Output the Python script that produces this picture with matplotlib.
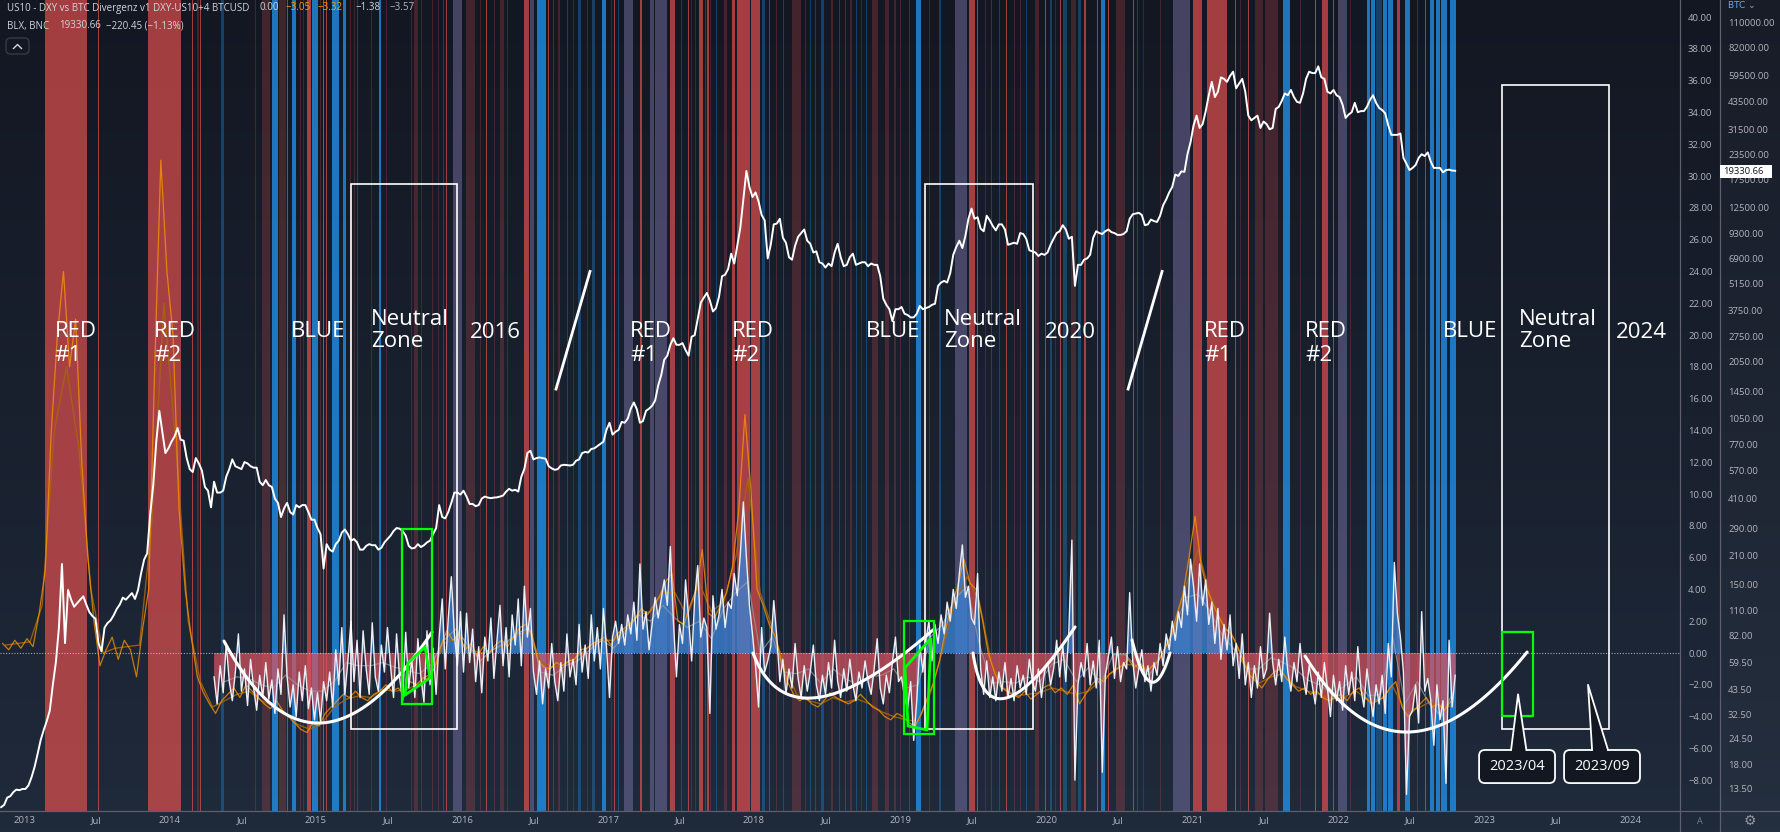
import numpy as np
import matplotlib
matplotlib.use("Agg")
import matplotlib.pyplot as plt
from matplotlib.patches import Rectangle, Polygon, FancyBboxPatch
from matplotlib.lines import Line2D
from matplotlib.colors import LinearSegmentedColormap
from matplotlib.ticker import NullLocator

plt.rcParams['font.family'] = ['Open Sans', 'DejaVu Sans']

# ======================= DATA =======================
# BLX (BTC) price, 4 values per month
btc_2012 = [10.9, 11.2, 12.2, 12.4, 13.0, 13.4, 13.3, 13.5]  # Nov-Dec
btc_2013 = [13.5, 14.1, 15.5, 17.5, 20.4, 24, 27, 30, 34, 46, 60, 90,
            190, 75, 140, 125, 115, 120, 125, 130, 118, 108, 103, 100,
            75, 68, 90, 95, 98, 104, 112, 118, 128, 125, 130, 135,
            126, 140, 170, 200, 215, 340, 480, 800, 1150, 900, 700, 740]
btc_2014 = [800, 850, 940, 820, 810, 660, 580, 560, 660, 620, 570, 470,
            450, 370, 500, 440, 440, 450, 530, 580, 650, 600, 590, 580,
            630, 620, 600, 590, 590, 500, 480, 510, 480, 470, 410, 390,
            330, 365, 390, 350, 340, 380, 370, 380, 380, 350, 320, 320]
btc_2015 = [290, 270, 180, 240, 225, 220, 240, 250, 275, 285, 270, 250,
            255, 245, 225, 225, 235, 240, 237, 237, 225, 230, 245, 255,
            265, 280, 290, 288, 280, 265, 235, 228, 230, 240, 232, 237,
            245, 250, 270, 290, 380, 330, 325, 350, 390, 440, 440, 430]
btc_2016 = [450, 420, 385, 385, 375, 380, 410, 420, 415, 412, 415, 416,
            420, 425, 445, 460, 450, 455, 445, 530, 580, 700, 720, 650,
            660, 665, 660, 655, 600, 585, 575, 580, 605, 610, 608, 605,
            610, 640, 650, 700, 710, 705, 735, 740, 760, 780, 800, 920]
btc_2017 = [1000, 870, 900, 920, 1010, 1000, 1050, 1180, 1270, 1170, 1000, 1020,
            1150, 1180, 1220, 1300, 1550, 1750, 2100, 2200, 2500, 2700, 2500, 2500,
            2550, 2350, 2200, 2750, 2800, 3400, 4100, 4350, 4600, 4200, 3700, 3850,
            4400, 5600, 5700, 6100, 7300, 6500, 8000, 9900, 13800, 19300, 16000, 14200]
btc_2018 = [15000, 13500, 11500, 10800, 6900, 8100, 10300, 10400, 11000, 8800, 8300, 7000,
            6800, 8000, 8900, 9300, 9700, 8500, 8200, 7400, 7500, 6600, 6500, 6200,
            6500, 6300, 7400, 8200, 7000, 6300, 6400, 7000, 7300, 6400, 6500, 6600,
            6600, 6300, 6500, 6400, 6400, 5600, 4300, 4000, 3800, 3300, 3800, 3800]
btc_2019 = [3900, 3600, 3550, 3450, 3450, 3600, 3950, 3800, 3850, 3900, 4000, 4050,
            5000, 5200, 5300, 5200, 5800, 7200, 7900, 8500, 7800, 9000, 11000, 12400,
            11000, 11200, 9800, 9500, 11400, 10800, 10100, 9600, 10300, 10300, 9700, 8100,
            8200, 8300, 8200, 9300, 9200, 8700, 7600, 7500, 7400, 7100, 7300, 7200]
btc_2020 = [7400, 8100, 8700, 9300, 9500, 10200, 9700, 8700, 8900, 5000, 6400, 6400,
            6800, 6900, 7200, 8800, 9500, 9300, 9200, 9500, 9700, 9400, 9300, 9100,
            9100, 9200, 9500, 11000, 11600, 11700, 11800, 11500, 10200, 10300, 10900, 10700,
            10600, 11400, 12900, 13800, 15000, 16000, 18500, 18200, 19200, 19100, 23500, 27000]
btc_2021 = [33000, 37000, 32000, 33500, 39000, 47000, 55000, 46000, 49000, 58000, 57000, 55000,
            59000, 62000, 51000, 54000, 57000, 49000, 37000, 35000, 36000, 37000, 32000, 34500,
            33500, 31500, 32000, 40000, 41000, 44000, 48000, 47000, 50000, 46000, 43500, 43000,
            48000, 57000, 62000, 61000, 61000, 66000, 58000, 57000, 49000, 48000, 50000, 47000]
btc_2022 = [46000, 42000, 36000, 37500, 38500, 43000, 38500, 39000, 39000, 41000, 44500, 47000,
            43000, 40500, 39500, 38000, 33000, 29500, 29500, 29500, 30000, 22500, 21000, 19500,
            20000, 20700, 22500, 23500, 23000, 24000, 21500, 20000, 20000, 20000, 19000, 19500,
            19600, 19400, 19330]

# Divergence oscillator (white line / histogram), 4 values per month
osc_2014 = [-1.5, -3.2, -0.8, -2.5, 0.6, -1.8, -3.0, -1.2, 1.2, -2.4, -1.0, -3.3, -0.4, -2.2,
            -3.6, -1.4, -2.8, -0.6, -2.9, -1.7, -3.8, -1.0, -2.6, 2.4, -1.5, -3.4,
            -2.0, -4.0, -1.2, -3.0, -0.8, -3.5, -2.2, -4.2]  # from mid-April
osc_2015 = [-2.5, -4.3, -1.8, -3.0, -1.2, -3.4, 0.2, -2.0, 1.6, -2.6, -0.5, 2.0,
            -1.8, 0.8, -2.8, 1.4, -1.0, -2.6, 1.9, -1.5, -2.4, 0.5, -1.2, 1.6,
            -0.8, -2.8, 1.2, -1.6, -3.0, 1.3, -2.2, -0.4, -2.8, 0.9, -1.5, -3.1,
            1.4, -2.0, 0.3, -2.6, 1.0, 3.4, -1.0, 2.2, 4.8, 1.2, -0.8, 2.6]
osc_2016 = [-1.2, 2.5, -0.6, 1.5, -1.8, 0.4, -2.5, 1.0, -0.5, 2.2, -1.6, 0.8,
            3.0, -0.8, 1.6, -1.5, 2.4, 0.5, 3.4, -0.8, 4.2, 1.0, 2.8, -1.2,
            -2.6, -0.5, -3.2, -1.0, -2.2, 0.6, -1.8, -3.0, -0.6, -2.4, 1.2, -1.5,
            -0.4, -2.0, 1.8, -1.2, 0.5, -1.6, 2.4, -0.5, 1.6, -1.0, 2.8, 0.4]
osc_2017 = [-2.8, 1.0, 2.0, 0.6, 1.8, 0.5, 2.4, 1.2, 3.2, 0.8, 5.6, 1.5,
            2.6, 0.2, 1.8, 3.5, 2.2, 3.4, 4.6, 3.0, 6.7, 2.0, -1.5, 1.8,
            0.6, 4.6, 2.2, -0.5, 3.4, 5.5, 1.0, 2.2, 1.6, -3.8, 3.6, 1.5,
            2.4, 4.0, 1.6, 3.2, 2.8, 5.0, 3.6, 6.2, 9.5, 6.0, 3.0, 1.2]
osc_2018 = [-0.8, -3.4, 1.6, -1.2, -0.5, 0.4, 3.3, 1.0, -1.8, -0.4, -2.6, -1.0,
            -2.2, 0.6, -1.6, -2.8, -0.8, -2.4, -1.2, 0.5, -2.0, -3.0, -1.4, -2.6,
            -0.6, -2.2, 0.8, -1.8, -2.8, -1.0, -2.4, -0.4, -2.0, -3.0, -1.2, -2.2,
            -0.5, -1.8, -2.6, -1.0, 0.9, -2.2, -3.2, -1.4, -2.5, -0.6, 1.0, -1.8]
osc_2019 = [-1.5, -2.8, -3.5, -1.8, -5.5, -3.0, 0.5, -1.2, 0.8, 2.0, -0.5, 1.8,
            0.6, 2.4, 1.2, 3.2, 2.0, 4.0, 2.8, 5.0, 6.8, 3.5, 4.2, 2.2,
            1.8, 5.0, -1.0, -2.6, -0.5, -2.8, -1.5, -3.0, -1.2, -2.4, -0.6, -2.8,
            -1.6, -3.0, -0.8, -2.2, -1.4, -2.6, -0.4, -1.8, -2.4, -1.0, -2.8, -1.2]
osc_2020 = [-0.6, -2.0, -1.0, 0.8, -1.5, 0.5, -1.8, 1.4, 7.1, -8.0, -2.0, -0.6,
            -1.5, 0.6, -2.0, -0.5, -2.2, 0.8, -7.5, -1.4, -0.2, 1.0, -1.6, 0.4,
            -1.8, -0.6, -1.0, 3.8, -0.5, -2.2, -1.0, 0.2, -1.8, -0.8, -2.4, -0.6,
            -1.4, 0.6, -0.8, 1.2, 0.2, 2.0, 0.8, 2.6, 1.6, 4.2, 2.4, 5.9]
osc_2021 = [4.2, 2.0, 5.6, 3.0, 4.6, 1.8, 3.2, 0.6, 2.8, -0.4, 1.8, 0.2,
            2.4, -0.8, 0.6, -1.6, 1.2, -2.0, -0.6, -2.8, -0.8, -2.2, 0.4, -1.6,
            -1.0, 2.5, -0.6, -2.0, -0.4, -1.8, 1.0, -1.2, -2.4, -0.6, -1.8, 0.6,
            -1.4, -2.6, -0.8, -2.0, -3.2, -1.2, -2.8, -0.6, -2.2, -4.0, -1.4, -3.0]
osc_2022 = [-1.8, -3.6, -0.8, -2.6, -1.2, -3.0, 0.4, -2.2, -3.4, -1.0, -2.6, -4.0,
            -2.0, -3.2, -1.4, -3.8, 0.6, -1.5, 5.7, 2.5, 1.0, -1.2, -8.9, -4.0,
            -3.6, -2.0, -4.4, 2.6, -2.4, -1.6, -3.0, -5.8, -2.0, -4.2, -3.0, -8.2,
            0.8, -3.4, -1.4]

# Fast orange signal, 2 values per month
org_2012 = [0.6, 0.2, 0.8, 0.3]
org_2013 = [0.9, 0.4, 2.5, 5.2, 14, 20, 24, 18, 21, 12, 6, 2,
            -0.8, 0.2, 1.0, -0.4, 0.8, 0.2, -1.5, 1.5, 4, 18, 31, 24]
org_2014 = [20, 9, 4, 1.0, -1.5, -2.5, -3.2, -3.8, -3.0, -2.6, -2.2, -2.8,
            -2.0, -2.4, -2.8, -3.2, -3.5, -3.0, -3.6, -4.0, -4.4, -4.8, -5.0, -4.4]
org_2015 = [-4.6, -3.8, -3.4, -3.0, -2.6, -2.8, -2.4, -2.8, -3.0, -2.6, -2.4, -2.0,
            -2.4, -2.2, -2.6, -1.8, -2.0, -1.6, -1.4, -1.0, 0.4, 1.4, 0.8, 1.2]
org_2016 = [0.2, 0.6, -0.2, 0.4, 0.0, 0.5, 0.8, 0.4, 1.0, 1.6, 1.8, 1.2,
            -0.5, -0.9, -1.0, -0.6, -0.8, -0.5, -0.4, 0.2, 0.3, 0.6, 0.8, 1.0]
org_2017 = [0.5, 1.2, 1.5, 1.8, 2.2, 2.8, 2.4, 3.0, 3.6, 4.5, 5.0, 2.0,
            1.8, 3.0, 4.0, 6.5, 2.5, 2.2, 3.0, 3.8, 5.5, 9.0, 15.0, 10.2]
org_2018 = [4.0, 3.0, 1.8, 1.0, -0.5, -1.8, -2.6, -3.0, -2.8, -3.2, -3.4, -3.0,
            -2.5, -2.8, -3.0, -3.2, -3.0, -2.6, -3.0, -3.4, -3.6, -4.0, -4.2, -3.8]
org_2019 = [-4.0, -4.4, -4.6, -3.8, -2.8, -1.9, -0.5, 1.5, 3.0, 4.2, 5.9, 4.4,
            4.0, 2.2, 0.0, -1.2, -2.1, -2.4, -2.6, -2.8, -2.4, -2.9, -2.6, -2.2]
org_2020 = [-2.0, -2.5, -2.2, -2.6, -2.0, -3.2, -2.6, -2.0, -1.6, -1.8, -1.3, -1.0,
            -0.8, -0.4, -0.9, -0.6, -1.2, -0.8, -0.5, 0.3, 1.0, 2.4, 3.7, 6.0]
org_2021 = [8.6, 5.5, 4.0, 3.0, 2.2, 1.5, 1.2, 0.4, -0.6, -1.4, -1.8, -2.2,
            -1.6, -1.2, -1.0, -1.6, -2.0, -2.4, -2.2, -2.6, -2.4, -2.8, -3.0, -2.8]
org_2022 = [-2.6, -3.0, -2.4, -2.2, -2.8, -3.2, -3.0, -2.8, -2.2, -1.8,
            -3.4, -4.0, -3.6, -3.2, -2.8, -3.4, -3.2, -3.6, -3.05]

# Slow (dark) orange signal, monthly
slow_2012 = [0.5, 0.6]
slow_2013 = [0.7, 3.0, 14, 18, 13, 4, 0.0, 0.3, 0.4, 0.5, 8, 22]
slow_2014 = [13, 2.0, -1.8, -3.4, -3.0, -2.6, -2.4, -3.0, -3.3, -3.8, -4.5, -4.8]
slow_2015 = [-4.4, -3.4, -2.9, -2.7, -2.8, -2.3, -2.4, -2.3, -1.9, -1.4, 0.6, 0.9]
slow_2016 = [0.3, 0.0, 0.2, 0.5, 1.1, 1.4, -0.6, -0.9, -0.7, -0.2, 0.4, 0.8]
slow_2017 = [0.8, 1.5, 2.4, 2.6, 3.8, 3.8, 2.3, 4.4, 2.6, 3.2, 6.0, 11.0]
slow_2018 = [3.8, 1.6, -0.8, -2.6, -3.0, -3.2, -2.8, -3.1, -2.9, -3.2, -3.7, -4.0]
slow_2019 = [-4.2, -4.3, -2.5, 0.2, 3.2, 4.8, 3.3, -0.6, -2.2, -2.7, -2.6, -2.5]
slow_2020 = [-2.2, -2.4, -2.6, -2.4, -1.7, -1.2, -0.7, -0.8, -1.0, -0.2, 1.5, 4.2]
slow_2021 = [6.5, 3.6, 1.9, 0.8, -0.9, -1.9, -1.5, -1.3, -2.1, -2.4, -2.6, -2.9]
slow_2022 = [-2.8, -2.4, -3.0, -2.9, -2.1, -3.6, -3.5, -3.1, -3.4, -3.32]

# Grey smoothed oscillator, monthly
grey_2014 = [-1.8, -1.5, -1.6, -2.0, -2.2, -1.4, -2.0, -2.4]  # May-Dec
grey_2015 = [-2.4, -1.8, -0.6, -0.8, -0.8, -0.6, -0.9, -1.1, -1.3, -0.7, 0.8, 1.5]
grey_2016 = [0.5, -0.5, 0.2, 0.6, 1.2, 1.6, -1.2, -1.4, -0.8, -0.5, 0.2, 0.8]
grey_2017 = [0.3, 1.4, 2.4, 2.0, 3.0, 2.2, 1.6, 2.0, 0.9, 2.8, 3.8, 4.5]
grey_2018 = [0.0, 1.0, -1.2, -1.3, -1.0, -1.9, -1.0, -1.6, -2.0, -1.5, -1.4, -1.0]
grey_2019 = [-2.2, -2.0, 1.0, 1.8, 3.4, 4.2, 0.6, -1.9, -1.8, -1.9, -1.5, -1.8]
grey_2020 = [-0.7, -0.4, -1.8, -0.9, -2.0, -0.1, -0.1, -0.9, -1.4, -0.1, 1.4, 3.5]
grey_2021 = [3.7, 2.6, 1.1, 0.2, -1.0, -1.0, -0.3, -0.6, -1.0, -1.7, -2.0, -2.6]
grey_2022 = [-2.1, -1.5, -2.7, -2.6, 1.0, -3.2, -1.8, -3.2, -4.0, -2.4]

# Background regime bands (decimal year start, end, kind)
# R strong red, r faint red, B strong blue, b faint blue, p mixed
band_start = [2013.141, 2013.507, 2013.853, 2014.151, 2014.188, 2014.205, 2014.349, 2014.582,
              2014.630, 2014.699, 2014.747, 2014.801, 2014.836, 2014.890, 2014.911, 2014.938,
              2014.973, 2015.027, 2015.048, 2015.068, 2015.110, 2015.185, 2015.233, 2015.260,
              2015.281, 2015.377, 2015.432, 2015.479, 2015.651, 2015.671, 2015.719, 2015.795,
              2015.836, 2015.870, 2015.890, 2015.938, 2016.027, 2016.123, 2016.164, 2016.219,
              2016.260, 2016.308, 2016.425, 2016.466, 2016.514, 2016.589, 2016.719, 2016.795,
              2016.856, 2016.890, 2016.959, 2017.021, 2017.041, 2017.110, 2017.219, 2017.288,
              2017.322, 2017.425, 2017.548, 2017.568, 2017.596, 2017.623, 2017.664, 2017.676,
              2017.699, 2017.795, 2017.849, 2017.884, 2017.979, 2018.055, 2018.103, 2018.260,
              2018.384, 2018.459, 2018.623, 2018.699, 2018.767, 2018.808, 2018.897, 2018.959,
              2019.062, 2019.110, 2019.377, 2019.473, 2019.527, 2019.623, 2019.726, 2019.822,
              2019.863, 2019.925, 2019.993, 2020.096, 2020.116, 2020.171, 2020.219, 2020.260,
              2020.349, 2020.377, 2020.425, 2020.480, 2020.596, 2020.623, 2020.664, 2020.781,
              2020.870, 2021.007, 2021.103, 2021.295, 2021.329, 2021.384, 2021.432, 2021.500,
              2021.623, 2021.740, 2021.842, 2021.890, 2021.966, 2022.000, 2022.082, 2022.199,
              2022.260, 2022.305, 2022.404, 2022.459, 2022.541, 2022.596, 2022.630, 2022.767,
              2022.228, 2022.342, 2022.668, 2022.706,
              2016.620, 2016.660, 2016.760, 2017.070, 2017.500, 2017.740, 2018.150, 2018.200,
              2018.350, 2018.420, 2018.530, 2018.580, 2018.660, 2018.730, 2019.000, 2019.200,
              2019.270, 2019.580, 2019.680, 2019.780, 2020.030, 2020.060]
band_end = [2013.430, 2013.515, 2014.075, 2014.159, 2014.196, 2014.213, 2014.370, 2014.590,
            2014.685, 2014.740, 2014.795, 2014.809, 2014.863, 2014.898, 2014.919, 2014.966,
            2015.014, 2015.035, 2015.056, 2015.076, 2015.158, 2015.205, 2015.241, 2015.268,
            2015.289, 2015.385, 2015.445, 2015.487, 2015.659, 2015.699, 2015.727, 2015.803,
            2015.844, 2015.878, 2015.898, 2016.000, 2016.089, 2016.131, 2016.172, 2016.227,
            2016.288, 2016.316, 2016.459, 2016.493, 2016.575, 2016.597, 2016.727, 2016.815,
            2016.864, 2016.911, 2016.986, 2017.029, 2017.049, 2017.171, 2017.233, 2017.315,
            2017.404, 2017.459, 2017.556, 2017.576, 2017.604, 2017.651, 2017.672, 2017.690,
            2017.707, 2017.815, 2017.870, 2017.973, 2018.041, 2018.075, 2018.111, 2018.322,
            2018.392, 2018.479, 2018.631, 2018.707, 2018.775, 2018.849, 2018.925, 2018.973,
            2019.070, 2019.144, 2019.459, 2019.514, 2019.535, 2019.631, 2019.734, 2019.830,
            2019.871, 2019.952, 2020.001, 2020.104, 2020.144, 2020.205, 2020.240, 2020.274,
            2020.357, 2020.404, 2020.433, 2020.540, 2020.604, 2020.631, 2020.672, 2020.789,
            2020.986, 2021.068, 2021.240, 2021.303, 2021.337, 2021.392, 2021.486, 2021.589,
            2021.671, 2021.748, 2021.850, 2021.932, 2021.974, 2022.062, 2022.090, 2022.222,
            2022.300, 2022.335, 2022.425, 2022.493, 2022.549, 2022.604, 2022.660, 2022.808,
            2022.250, 2022.377, 2022.700, 2022.747,
            2016.628, 2016.668, 2016.768, 2017.078, 2017.508, 2017.748, 2018.158, 2018.208,
            2018.358, 2018.428, 2018.538, 2018.588, 2018.668, 2018.738, 2019.008, 2019.208,
            2019.278, 2019.588, 2019.688, 2019.788, 2020.038, 2020.068]
band_kind = ("RRRRrRbr" "rBrRBrrR" "BrBRBBrr" "brBrrrrr" "rbRprrRr" "rrRpBRbb"
             "rbBrRpRp" "pRRrrRbR" "rrRRRbpr" "bbbbbrrr" "bBpRRbRr" "brRRbrbR"
             "RBRrRbrr" "pRRRrRrr" "BrBRRprB" "bBRBbRBB" "BBBB"
             "brrbbbrb" "rbrbrrrr" "brbrbr")

# Price-axis and oscillator-axis ticks
btc_ticks = [13.5, 18, 24.5, 32.5, 43.5, 59.5, 82, 110, 150, 210, 290, 410, 570, 770, 1050,
             1450, 2050, 2750, 3750, 5150, 6900, 9300, 12500, 17500, 23500, 31500, 43500,
             59500, 82000, 110000]
osc_ticks = list(range(-8, 41, 2))
date_ticks = [2013, 2013.496, 2014, 2014.496, 2015, 2015.496, 2016, 2016.497, 2017, 2017.496,
              2018, 2018.496, 2019, 2019.496, 2020, 2020.497, 2021, 2021.496, 2022, 2022.496,
              2023, 2023.496, 2024]
date_labels = ['2013', 'Jul', '2014', 'Jul', '2015', 'Jul', '2016', 'Jul', '2017', 'Jul',
               '2018', 'Jul', '2019', 'Jul', '2020', 'Jul', '2021', 'Jul', '2022', 'Jul',
               '2023', 'Jul', '2024']

# Drawings (decimal year, oscillator units)
labels = [("RED", 2013.209, 20.25), ("#1", 2013.209, 18.74),
          ("RED", 2013.890, 20.25), ("#2", 2013.890, 18.74),
          ("BLUE", 2014.829, 20.19), ("Neutral", 2015.377, 21.0), ("Zone", 2015.377, 19.62),
          ("2016", 2016.055, 20.13),
          ("RED", 2017.151, 20.25), ("#1", 2017.151, 18.74),
          ("RED", 2017.849, 20.25), ("#2", 2017.849, 18.74),
          ("BLUE", 2018.767, 20.19), ("Neutral", 2019.301, 21.0), ("Zone", 2019.301, 19.62),
          ("2020", 2019.993, 20.13),
          ("RED", 2021.082, 20.25), ("#1", 2021.082, 18.74),
          ("RED", 2021.774, 20.25), ("#2", 2021.774, 18.74),
          ("BLUE", 2022.719, 20.19), ("Neutral", 2023.240, 21.0), ("Zone", 2023.240, 19.62),
          ("2024", 2023.904, 20.13)]
zone_boxes = [(2015.240, 2015.966, -4.78, 29.5), (2019.171, 2019.911, -4.78, 29.5),
              (2023.123, 2023.856, -4.78, 35.7)]
green_boxes = [(2015.589, 2015.795, -3.2, 7.8), (2019.027, 2019.233, -5.1, 2.0),
               (2023.123, 2023.336, -3.96, 1.32)]
green_quads = [[(2015.610, -2.64), (2015.630, -0.63), (2015.747, 0.38), (2015.781, -1.57)],
               [(2019.034, -0.94), (2019.212, 0.94), (2019.185, -4.84), (2019.055, -4.59)]]
arc_start = [(2014.370, 0.75), (2017.993, 0.0), (2019.500, 0.0), (2020.589, 0.82), (2021.774, -0.19)]
arc_mid = [(2015.034, -4.40), (2018.432, -2.8), (2019.726, -2.83), (2020.719, -1.82), (2022.479, -4.97)]
arc_end = [(2015.795, 1.32), (2019.226, 1.45), (2020.199, 1.64), (2020.849, 0.0), (2023.295, 0.06)]
slashes = [((2016.644, 16.6), (2016.877, 24.0)), ((2020.562, 16.6), (2020.795, 24.0))]
callouts = [("2023/04", (2022.966, 2023.486, -8.18, -6.10), (2023.233, -2.6), (2023.185, 2023.290)),
            ("2023/09", (2023.548, 2024.068, -8.18, -6.10), (2023.712, -2.0), (2023.740, 2023.849))]

# ======================= LAYOUT =======================
W, H = 1780, 832
PLOT_R, PLOT_B = 1680, 811
BG = '#131722'
TXT = '#b2b5be'


def fx(px):
    return px / W


def fy(py):
    return 1 - py / H


def weekly(year, start, vals):
    return [year + (start + i + 0.5) / 48 for i in range(len(vals))]


def semimonthly(year, start, vals):
    return [year + (start + i + 0.5) / 24 for i in range(len(vals))]


def monthly(year, start, vals):
    return [year + (start + i + 0.5) / 12 for i in range(len(vals))]


def build(fn, spec):
    xs, ys = [], []
    for yr, st, v in spec:
        xs += fn(yr, st, v)
        ys += v
    return np.array(xs), np.array(ys, dtype=float)


btc_x, btc_y = build(weekly, [(2012, 40, btc_2012), (2013, 0, btc_2013), (2014, 0, btc_2014),
                              (2015, 0, btc_2015), (2016, 0, btc_2016), (2017, 0, btc_2017),
                              (2018, 0, btc_2018), (2019, 0, btc_2019), (2020, 0, btc_2020),
                              (2021, 0, btc_2021), (2022, 0, btc_2022)])
osc_x, osc_y = build(weekly, [(2014, 14, osc_2014), (2015, 0, osc_2015), (2016, 0, osc_2016),
                              (2017, 0, osc_2017), (2018, 0, osc_2018), (2019, 0, osc_2019),
                              (2020, 0, osc_2020), (2021, 0, osc_2021), (2022, 0, osc_2022)])
org_x, org_y = build(semimonthly, [(2012, 20, org_2012), (2013, 0, org_2013), (2014, 0, org_2014),
                                   (2015, 0, org_2015), (2016, 0, org_2016), (2017, 0, org_2017),
                                   (2018, 0, org_2018), (2019, 0, org_2019), (2020, 0, org_2020),
                                   (2021, 0, org_2021), (2022, 0, org_2022)])
slow_x, slow_y = build(monthly, [(2012, 10, slow_2012), (2013, 0, slow_2013), (2014, 0, slow_2014),
                                 (2015, 0, slow_2015), (2016, 0, slow_2016), (2017, 0, slow_2017),
                                 (2018, 0, slow_2018), (2019, 0, slow_2019), (2020, 0, slow_2020),
                                 (2021, 0, slow_2021), (2022, 0, slow_2022)])
grey_x, grey_y = build(monthly, [(2014, 4, grey_2014), (2015, 0, grey_2015), (2016, 0, grey_2016),
                                 (2017, 0, grey_2017), (2018, 0, grey_2018), (2019, 0, grey_2019),
                                 (2020, 0, grey_2020), (2021, 0, grey_2021), (2022, 0, grey_2022)])

fig = plt.figure(figsize=(W / 100, H / 100), dpi=100)
fig.patch.set_facecolor(BG)

# background gradient
bg = fig.add_axes([0, 0, 1, 1])
bg.set_zorder(-5)
cmap = LinearSegmentedColormap.from_list('bg', ['#131722', '#1f2a3b'])
bg.imshow(np.linspace(0, 1, 256).reshape(-1, 1), aspect='auto', cmap=cmap,
          extent=[0, 1, 0, 1], origin='upper')
bg.set_xlim(0, 1)
bg.set_ylim(0, 1)
bg.axis('off')
bg.add_patch(Rectangle((fx(1720), 0), fx(1780) - fx(1720), 1, color='white', alpha=0.025, lw=0))

ax = fig.add_axes([0, fy(PLOT_B), fx(PLOT_R), PLOT_B / H])
ax.set_facecolor('none')
axp = ax.twinx()
axp.patch.set_visible(False)
for a in (ax, axp):
    for s in a.spines.values():
        s.set_visible(False)

ax.set_xlim(2012.836, 2024.342)
ax.set_ylim(-9.937, 41.07)
axp.set_yscale('log')
axp.set_ylim(10.42, 144000)

# regime bands
band_style = {'R': ('#ef5350', 0.66), 'r': ('#ef5350', 0.22), 'B': ('#2196f3', 0.75),
              'b': ('#2196f3', 0.32), 'p': ('#988bcb', 0.38)}
for s, e, k in zip(band_start, band_end, band_kind):
    c, al = band_style[k]
    ax.axvspan(s, max(e, s + 0.008), color=c, alpha=al, lw=0, zorder=1)

# oscillator
ax.fill_between(osc_x, 0, osc_y, where=osc_y >= 0, interpolate=True,
                color='#3b80d2', alpha=0.8, lw=0, zorder=2)
ax.fill_between(osc_x, 0, osc_y, where=osc_y <= 0, interpolate=True,
                color='#d9535f', alpha=0.72, lw=0, zorder=2)
ax.plot(slow_x, slow_y, color='#a8650f', lw=1.0, alpha=0.85, zorder=3)
ax.plot(grey_x, grey_y, color='#9598a1', lw=0.9, alpha=0.75, zorder=3.2)
ax.plot(org_x, org_y, color='#ff9800', lw=0.9, alpha=0.75, zorder=3.4)
ax.axhline(0, color='#c8cbd3', lw=0.8, ls=(0, (1, 1.5)), alpha=0.8, zorder=3.5)
ax.plot(osc_x, osc_y, color='#eceff5', lw=1.0, zorder=3.6)

# price
axp.plot(btc_x, btc_y, color='white', lw=1.4, zorder=3)

# drawings
T = ax.transData
for s, x, y in labels:
    axp.text(x, y, s, transform=T, color='white', fontsize=16, ha='left', va='center', zorder=6)
for x0, x1, y0, y1 in zone_boxes:
    axp.add_patch(Rectangle((x0, y0), x1 - x0, y1 - y0, transform=T, fill=False,
                            ec='white', lw=1.2, zorder=5))
for x0, x1, y0, y1 in green_boxes:
    axp.add_patch(Rectangle((x0, y0), x1 - x0, y1 - y0, transform=T, fill=False,
                            ec='#00ff00', lw=1.6, zorder=5.5))
for q in green_quads:
    axp.add_patch(Polygon(q, closed=True, transform=T, fill=False, ec='#00ff00',
                          lw=2.0, zorder=5.5))
t = np.linspace(0, 1, 80)[:, None]
for s, m, e in zip(arc_start, arc_mid, arc_end):
    s, m, e = np.array(s), np.array(m), np.array(e)
    c = 2 * m - 0.5 * (s + e)
    pts = (1 - t) ** 2 * s + 2 * (1 - t) * t * c + t ** 2 * e
    axp.plot(pts[:, 0], pts[:, 1], transform=T, color='white', lw=2.2,
             solid_capstyle='round', zorder=5)
for p0, p1 in slashes:
    axp.plot([p0[0], p1[0]], [p0[1], p1[1]], transform=T, color='white', lw=2.0, zorder=5)
for txt, (x0, x1, y0, y1), tip, base in callouts:
    axp.add_patch(FancyBboxPatch((x0, y0), x1 - x0, y1 - y0,
                                 boxstyle='round,pad=0,rounding_size=0.04',
                                 mutation_aspect=9.18, transform=T, fc=BG, ec='white',
                                 lw=1.3, zorder=7))
    axp.add_patch(Polygon([(base[0], y1 - 0.15), tip, (base[1], y1 - 0.15)], closed=True,
                          transform=T, fc=BG, ec='none', zorder=7.5))
    axp.plot([base[0], tip[0], base[1]], [y1, tip[1], y1], transform=T, color='white',
             lw=1.3, zorder=7.6)
    axp.text((x0 + x1) / 2, (y0 + y1) / 2, txt, transform=T, color='white', fontsize=10.5,
             ha='center', va='center', zorder=8)

# axes ticks
ax.yaxis.tick_right()
ax.set_yticks(osc_ticks)
ax.set_yticklabels([f"{v:.2f}".replace('-', '\u2212') for v in osc_ticks])
ax.tick_params(axis='y', length=0, pad=5.8, labelsize=6.8, labelcolor=TXT)
ax.set_xticks(date_ticks)
ax.set_xticklabels(date_labels)
ax.tick_params(axis='x', length=0, pad=3.4, labelsize=6.8, labelcolor=TXT)
axp.set_yticks(btc_ticks)
axp.set_yticklabels([f"{v:.2f}" for v in btc_ticks])
axp.yaxis.set_minor_locator(NullLocator())
axp.tick_params(axis='y', which='both', length=0, pad=34.6, labelsize=6.8, labelcolor=TXT)

# separators
sep = '#5d606b'
fig.add_artist(Line2D([0, 1], [fy(PLOT_B), fy(PLOT_B)], transform=fig.transFigure, color=sep, lw=0.9))
for px in (1680, 1720):
    fig.add_artist(Line2D([fx(px), fx(px)], [0, 1], transform=fig.transFigure, color=sep, lw=0.9))

# last price label
fig.add_artist(Rectangle((fx(1720), fy(178)), fx(1772) - fx(1720), 13 / H,
                         transform=fig.transFigure, fc='white', ec='none', zorder=5))
fig.text(fx(1723), fy(171.5), "19330.66", color='#131722', fontsize=6.8, ha='left',
         va='center', zorder=6)
fig.text(fx(1728), fy(6), "BTC \u2304", color='#6ea6f5', fontsize=6.5, ha='left', va='center',
         family=['DejaVu Sans'])
fig.text(fx(1700), fy(821), "A", color='#787b86', fontsize=6.5, ha='center', va='center')
fig.text(fx(1750), fy(821), "\u2699", color='#9598a1', fontsize=10, ha='center', va='center',
         family=['DejaVu Sans'])

# legend
leg1 = [("US10 - DXY vs BTC Divergenz v1 DXY-US10+4 BTCUSD", 7, '#d1d4dc'),
        ("0.00", 259, '#d1d4dc'), ("\u22123.05", 285, '#ff9800'), ("\u22123.32", 318, '#ff9800'),
        ("\u22121.38", 355, '#d1d4dc'), ("\u22123.57", 390, '#b2b5be')]
for s, px, c in leg1:
    fig.text(fx(px), fy(8), s, color=c, fontsize=7.0, ha='left', va='center')
leg2 = [("BLX, BNC", 7), ("19330.66", 59), ("\u2212220.45 (\u22121.13%)", 106)]
for s, px in leg2:
    fig.text(fx(px), fy(26), s, color='#d1d4dc', fontsize=7.0, ha='left', va='center')
fig.add_artist(FancyBboxPatch((fx(6), fy(54)), fx(29) - fx(6), 16 / H,
                              boxstyle='round,pad=0,rounding_size=0.0025',
                              mutation_aspect=W / H, transform=fig.transFigure,
                              fc=BG, ec='#3a3e4a', lw=0.9, zorder=4))
fig.add_artist(Line2D([fx(13.5), fx(17.5), fx(21.5)], [fy(48.5), fy(44.5), fy(48.5)],
                      transform=fig.transFigure, color='#d1d4dc', lw=1.0, zorder=5))

fig.savefig('out.png', dpi=100, facecolor=fig.get_facecolor())
